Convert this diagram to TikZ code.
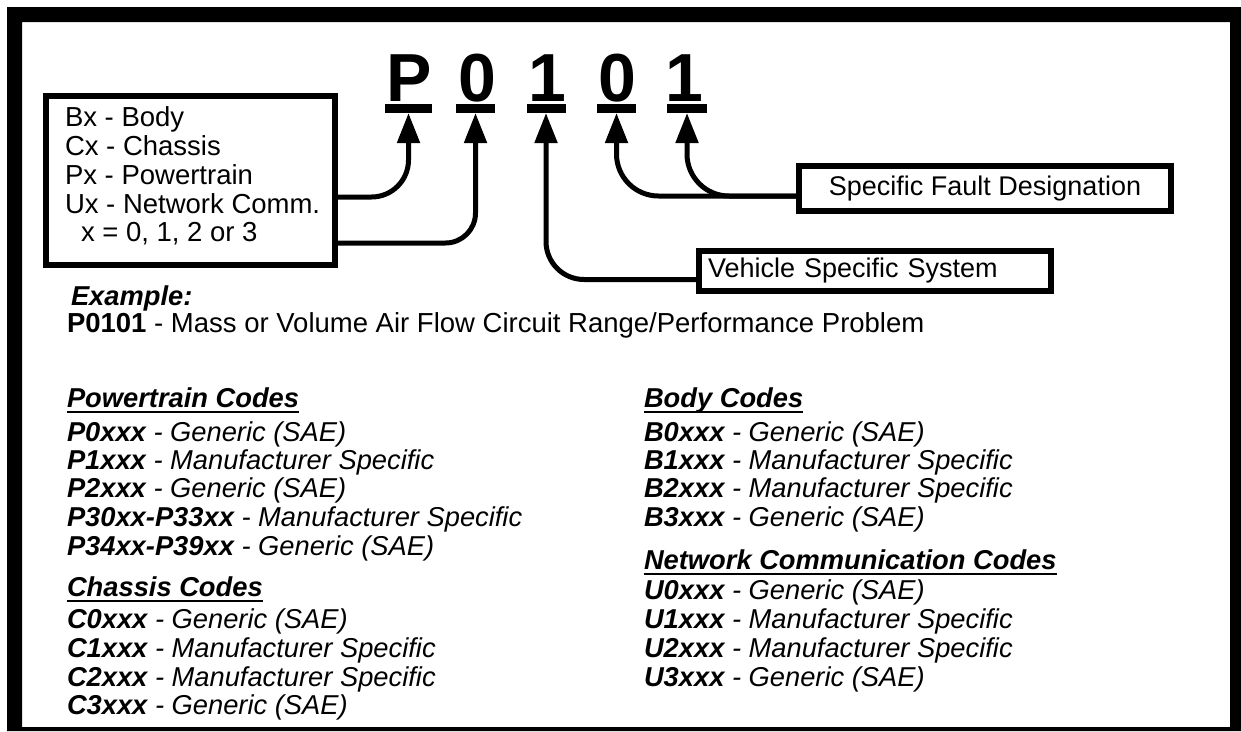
\documentclass[tikz,border=0pt]{standalone}
\usepackage{fontspec}
\setmainfont{Liberation Sans}
\usetikzlibrary{arrows.meta}
\begin{document}
\begin{tikzpicture}[x=1pt,y=-1pt,
  every node/.style={inner sep=0pt, outer sep=0pt},
  big/.style={font=\fontsize{68}{70}\selectfont\bfseries, anchor=base},
  bar/.style={fill=black, minimum height=9pt, inner sep=0pt},
  lbl/.style={draw, line width=6pt, inner sep=0pt},
  boxtxt/.style={font=\fontsize{27.5}{29}\selectfont, anchor=base west},
  codetxt/.style={font=\fontsize{27.3}{28}\selectfont\itshape, anchor=base west},
  hdr/.style={font=\fontsize{27.3}{28}\selectfont\bfseries\itshape, anchor=base west},
  uline/.style={line width=2.8pt},
  arr/.style={line width=5pt, -{Triangle[length=30pt,width=22pt]}},
]
\useasboundingbox (0,0) rectangle (1241,731);
\fill[white] (0,0) rectangle (1241,731);
\fill[black, even odd rule] (7,7) rectangle (1241,731) (22,22) rectangle (1230,727);

% big code letters
\node[big] (c1) at (409,101) {P};
\node[big] (c2) at (477,101) {0};
\node[big] (c3) at (547,101) {1};
\node[big] (c4) at (617,101) {0};
\node[big] (c5) at (684,101) {1};
% bars
\node[bar, minimum width=47pt] (b1) at (408.5,108.5) {};
\node[bar, minimum width=39pt] (b2) at (475.5,108.5) {};
\node[bar, minimum width=39pt] (b3) at (546,108.5) {};
\node[bar, minimum width=39pt] (b4) at (616.5,108.5) {};
\node[bar, minimum width=40pt] (b5) at (687,108.5) {};

% left box
\node[lbl, minimum width=289.5pt, minimum height=169pt] (lbox) at (190.25,180.5) {};
\node[boxtxt] (t1) at (65,126) {Bx - Body};
\node[boxtxt] (t2) at (65,155) {Cx - Chassis};
\node[boxtxt] (t3) at (65,184) {Px - Powertrain};
\node[boxtxt] (t4) at (65,213) {Ux - Network Comm.};
\node[boxtxt] (t5) at (81,241) {x = 0, 1, 2 or 3};

% right boxes
\node[lbl, minimum width=372pt, minimum height=45pt, font=\fontsize{27}{29}\selectfont] (sbox) at (985,188.5) {Specific Fault Designation};
\node[lbl, minimum width=352pt, minimum height=40pt, text width=334pt, align=left, font=\fontsize{27}{29}\selectfont] (vbox) at (875,271) {Vehicle Specific System};

% connectors
\draw[arr, rounded corners=37pt] ([yshift=-16.5pt]lbox.east) -| (b1.south);
\draw[arr, rounded corners=30pt] ([yshift=-62.5pt]lbox.east) -| (b2.south);
\draw[arr, rounded corners=38pt] ([yshift=-8.5pt]vbox.west) -| (b3.south);
\draw[arr, rounded corners=42pt] ([yshift=-7.5pt]sbox.west) -| (b4.south);
\draw[arr, rounded corners=42pt] ([yshift=-7.5pt]sbox.west) -| (b5.south);

% example
\node[hdr] (ex) at (71,305) {Example:};
\node[font=\fontsize{27.5}{28}\selectfont, anchor=base west] (exl) at (67,332) {\textbf{P0101} - Mass or Volume Air Flow Circuit Range/Performance Problem};

% left column
\node[hdr] (hp) at (67,407) {Powertrain Codes};
\draw[uline] ([yshift=-5pt]hp.base west) -- ([yshift=-5pt]hp.base east);
\node[codetxt] (p0) at (67,441) {\textbf{P0xxx} - Generic (SAE)};
\node[codetxt] (p1) at (67,469) {\textbf{P1xxx} - Manufacturer Specific};
\node[codetxt] (p2) at (67,497) {\textbf{P2xxx} - Generic (SAE)};
\node[codetxt] (p3) at (67,526) {\textbf{P30xx-P33xx} - Manufacturer Specific};
\node[codetxt] (p4) at (67,555) {\textbf{P34xx-P39xx} - Generic (SAE)};
\node[hdr] (hc) at (67,596) {Chassis Codes};
\draw[uline] ([yshift=-5pt]hc.base west) -- ([yshift=-5pt]hc.base east);
\node[codetxt] (k0) at (67,628) {\textbf{C0xxx} - Generic (SAE)};
\node[codetxt] (k1) at (67,657) {\textbf{C1xxx} - Manufacturer Specific};
\node[codetxt] (k2) at (67,686) {\textbf{C2xxx} - Manufacturer Specific};
\node[codetxt] (k3) at (67,714) {\textbf{C3xxx} - Generic (SAE)};

% right column
\node[hdr] (hb) at (644,407) {Body Codes};
\draw[uline] ([yshift=-5pt]hb.base west) -- ([yshift=-5pt]hb.base east);
\node[codetxt] (q0) at (644,441) {\textbf{B0xxx} - Generic (SAE)};
\node[codetxt] (q1) at (644,469) {\textbf{B1xxx} - Manufacturer Specific};
\node[codetxt] (q2) at (644,497) {\textbf{B2xxx} - Manufacturer Specific};
\node[codetxt] (q3) at (644,526) {\textbf{B3xxx} - Generic (SAE)};
\node[hdr] (hn) at (644,569) {Network Communication Codes};
\draw[uline] ([yshift=-5pt]hn.base west) -- ([yshift=-5pt]hn.base east);
\node[codetxt] (u0) at (644,599) {\textbf{U0xxx} - Generic (SAE)};
\node[codetxt] (u1) at (644,628) {\textbf{U1xxx} - Manufacturer Specific};
\node[codetxt] (u2) at (644,657) {\textbf{U2xxx} - Manufacturer Specific};
\node[codetxt] (u3) at (644,686) {\textbf{U3xxx} - Generic (SAE)};
\end{tikzpicture}
\end{document}
